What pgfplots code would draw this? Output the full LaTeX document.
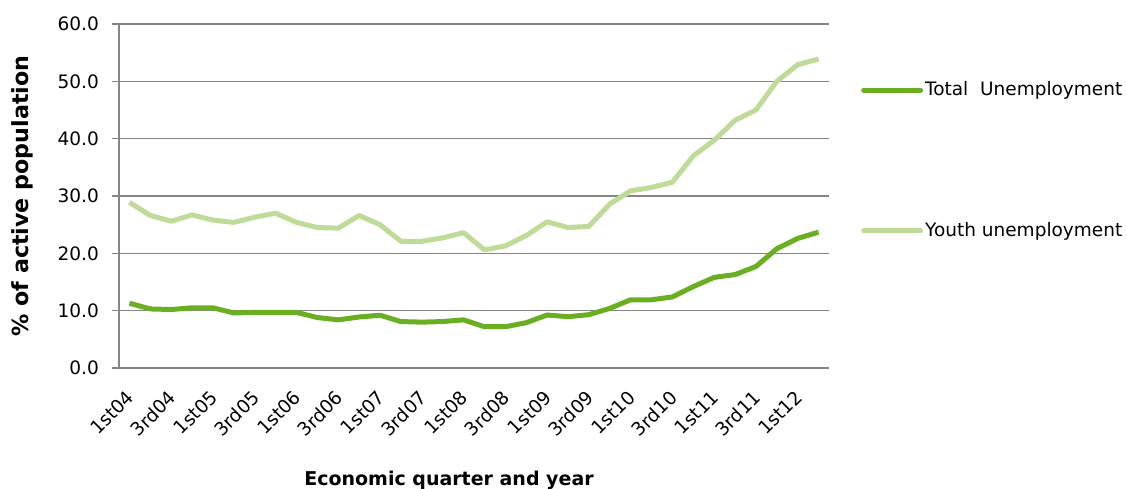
\documentclass[border=0pt]{standalone}
\usepackage{fontspec}
\setmainfont{DejaVu Sans}
\usepackage{pgfplots}
\pgfplotsset{compat=1.18}
\definecolor{dkg}{HTML}{6AAE22}
\definecolor{ltg}{HTML}{BFDB98}
\definecolor{grd}{HTML}{868686}
\begin{document}
\fontsize{18.5}{22}\selectfont
\begin{tikzpicture}[x=1pt,y=1pt]
\useasboundingbox (0,0) rectangle (1127,488);
\begin{axis}[
  at={(119pt,120pt)}, anchor=south west,
  scale only axis, width=710pt, height=344pt,
  xmin=-0.5, xmax=33.5, ymin=0, ymax=60,
  axis x line*=bottom, axis y line*=left,
  axis line style={grd, line width=1.5pt},
  ytick={0,10,...,60},
  ymajorgrids, grid style={grd, line width=1.5pt},
  xtick={0,2,...,32},
  xticklabels={1st04,3rd04,1st05,3rd05,1st06,3rd06,1st07,3rd07,1st08,3rd08,1st09,3rd09,1st10,3rd10,1st11,3rd11,1st12},
  x tick style={draw=none},
  y tick style={grd, line width=1.5pt},
  tick align=outside, major tick length=7pt,
  tick label style={font=\fontsize{18.5}{22}\selectfont},
  yticklabel style={inner sep=0pt, xshift=-13pt},
  xticklabel style={rotate=45, anchor=north east, inner sep=0pt, xshift=-12.7pt, yshift=-7.1pt},
  /pgf/number format/.cd, fixed, fixed zerofill, precision=1, assume math mode=true,
  /pgfplots/.cd,
  ylabel={\% of active population},
  ylabel style={font=\bfseries\fontsize{22.2}{24}\selectfont, at={(axis description cs:-0.1366,0.5)}, anchor=center, rotate=0},
  xlabel={Economic quarter and year},
  xlabel style={font=\bfseries\fontsize{19}{22}\selectfont, at={(axis description cs:0.4648,-0.343)}, anchor=base},
  legend style={draw=none, fill=none, at={(axis description cs:1.045,0.603)}, anchor=west, inner sep=0pt, row sep=120pt, font=\fontsize{18.5}{22}\selectfont, nodes={inner sep=2pt}},
  legend cell align=left,
  legend image code/.code={\draw[#1, line cap=round] (0pt,0pt) -- (57pt,0pt);},
]
\addplot[dkg, line width=5pt, line join=round] coordinates {
(0,11.3) (1,10.3) (2,10.2) (3,10.5) (4,10.5) (5,9.6) (6,9.7) (7,9.7) (8,9.7)
(9,8.8) (10,8.4) (11,8.9) (12,9.2) (13,8.1) (14,8.0) (15,8.1) (16,8.4)
(17,7.2) (18,7.2) (19,7.9) (20,9.25) (21,8.95) (22,9.3) (23,10.4) (24,11.9)
(25,11.9) (26,12.4) (27,14.2) (28,15.8) (29,16.3) (30,17.7) (31,20.8) (32,22.6) (33,23.7)
};
\addlegendentry{Total\ \ Unemployment}
\addplot[ltg, line width=5pt, line join=round] coordinates {
(0,28.9) (1,26.6) (2,25.6) (3,26.7) (4,25.8) (5,25.4) (6,26.3) (7,27.0) (8,25.4)
(9,24.5) (10,24.4) (11,26.6) (12,25.0) (13,22.1) (14,22.1) (15,22.7) (16,23.6)
(17,20.6) (18,21.3) (19,23.1) (20,25.5) (21,24.5) (22,24.7) (23,28.6) (24,30.9)
(25,31.5) (26,32.4) (27,37.0) (28,39.7) (29,43.2) (30,45.0) (31,50.0) (32,52.9) (33,53.9)
};
\addlegendentry{Youth unemployment}
\end{axis}
\end{tikzpicture}
\end{document}
